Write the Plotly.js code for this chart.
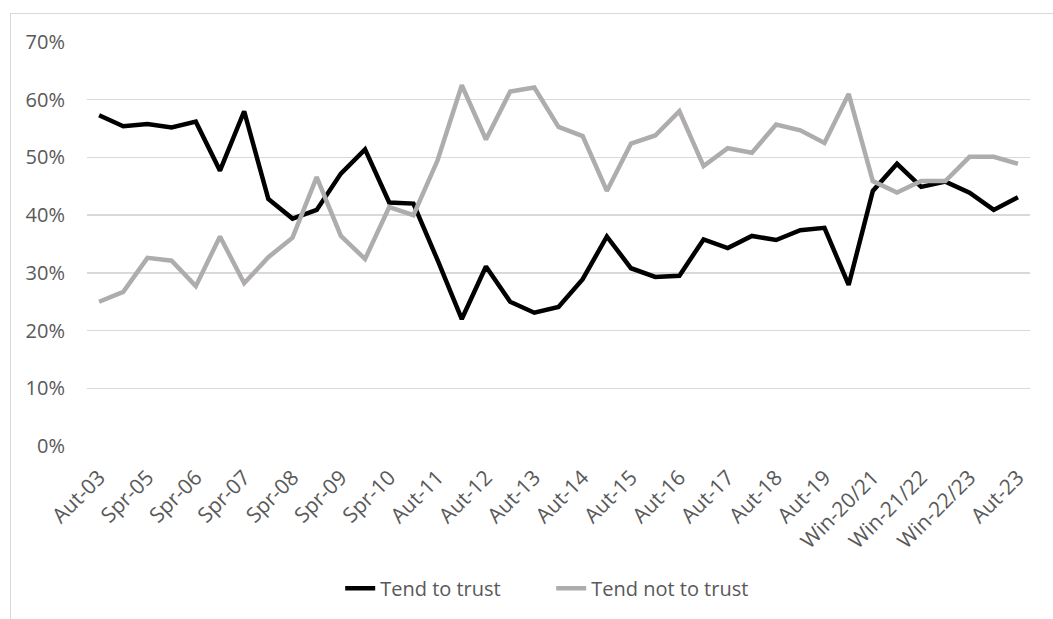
<!DOCTYPE html>
<html>
<head>
<meta charset="utf-8">
<script src="https://cdn.plot.ly/plotly-3.0.1.min.js"></script>
<style>
  html, body { margin: 0; padding: 0; background: #fff; overflow: hidden; }
  #chart { position: absolute; left: 0; top: 0; width: 1053px; height: 619px; }
  #frame { position: absolute; left: 10px; top: 13px; width: 1100px; height: 700px;
           border: 1px solid #d9d9d9; pointer-events: none; }
</style>
</head>
<body>
<div id="chart"></div>
<div id="frame"></div>
<script>
const waves = [
  "Aut-03","Aut-04","Spr-05","Aut-05","Spr-06","Aut-06","Spr-07","Aut-07","Spr-08","Aut-08",
  "Spr-09","Aut-09","Spr-10","Aut-10","Aut-11","Spr-12","Aut-12","Spr-13","Aut-13","Spr-14",
  "Aut-14","Spr-15","Aut-15","Spr-16","Aut-16","Spr-17","Aut-17","Spr-18","Aut-18","Spr-19",
  "Aut-19","Sum-20","Win-20/21","Spr-21","Win-21/22","Sum-22","Win-22/23","Spr-23","Aut-23"
];
const tickLabels = [
  "Aut-03","Spr-05","Spr-06","Spr-07","Spr-08","Spr-09","Spr-10","Aut-11","Aut-12","Aut-13",
  "Aut-14","Aut-15","Aut-16","Aut-17","Aut-18","Aut-19","Win-20/21","Win-21/22","Win-22/23","Aut-23"
];
const tendToTrust = [
  0.573,0.554,0.558,0.552,0.562,0.477,0.580,0.428,0.394,0.409,
  0.472,0.514,0.422,0.420,0.322,0.220,0.311,0.250,0.231,0.241,
  0.289,0.363,0.308,0.293,0.295,0.358,0.343,0.364,0.357,0.374,
  0.378,0.279,0.442,0.489,0.449,0.458,0.439,0.409,0.431
];
const tendNotToTrust = [
  0.250,0.267,0.326,0.321,0.277,0.363,0.282,0.327,0.361,0.466,
  0.364,0.324,0.414,0.400,0.495,0.625,0.531,0.614,0.621,0.553,
  0.537,0.442,0.524,0.538,0.580,0.485,0.516,0.508,0.557,0.547,
  0.525,0.610,0.459,0.439,0.459,0.459,0.501,0.501,0.489
];

const font = "'Open Sans', sans-serif";
const data = [
  { x: waves, y: tendToTrust, type: "scatter", mode: "lines", name: "Tend to trust",
    line: { color: "#000000", width: 4.5 } },
  { x: waves, y: tendNotToTrust, type: "scatter", mode: "lines", name: "Tend not to trust",
    line: { color: "#afacac", width: 4.5 } }
];
const layout = {
  width: 1053, height: 619,
  margin: { l: 87, r: 23, t: 42, b: 172 },
  paper_bgcolor: "#fff", plot_bgcolor: "#fff",
  font: { family: font, size: 20, color: "#595959" },
  xaxis: {
    type: "category", categoryorder: "array", categoryarray: waves,
    range: [-0.5, waves.length - 0.5],
    tickmode: "array", tickvals: tickLabels, ticktext: tickLabels,
    tickangle: -45, showgrid: false, zeroline: false, showline: false,
    ticks: "", ticklabelstandoff: 14,
    tickfont: { family: font, size: 21, color: "#595959" }
  },
  yaxis: {
    range: [0, 0.7], dtick: 0.1, tickformat: ".0%",
    showgrid: true, gridcolor: "#d9d9d9", gridwidth: 1.3,
    zeroline: false, showline: false, ticks: "", ticklabelstandoff: 21,
    tickfont: { family: font, size: 20, color: "#595959" }
  },
  showlegend: true,
  legend: {
    orientation: "h", x: 0.2685, xanchor: "left", y: -0.349, yanchor: "middle",
    font: { family: font, size: 20, color: "#595959" },
    itemwidth: 30, entrywidth: 166, entrywidthmode: "pixels", traceorder: "normal"
  }
};
Plotly.newPlot("chart", data, layout, { displayModeBar: false, staticPlot: true });
</script>
</body>
</html>
